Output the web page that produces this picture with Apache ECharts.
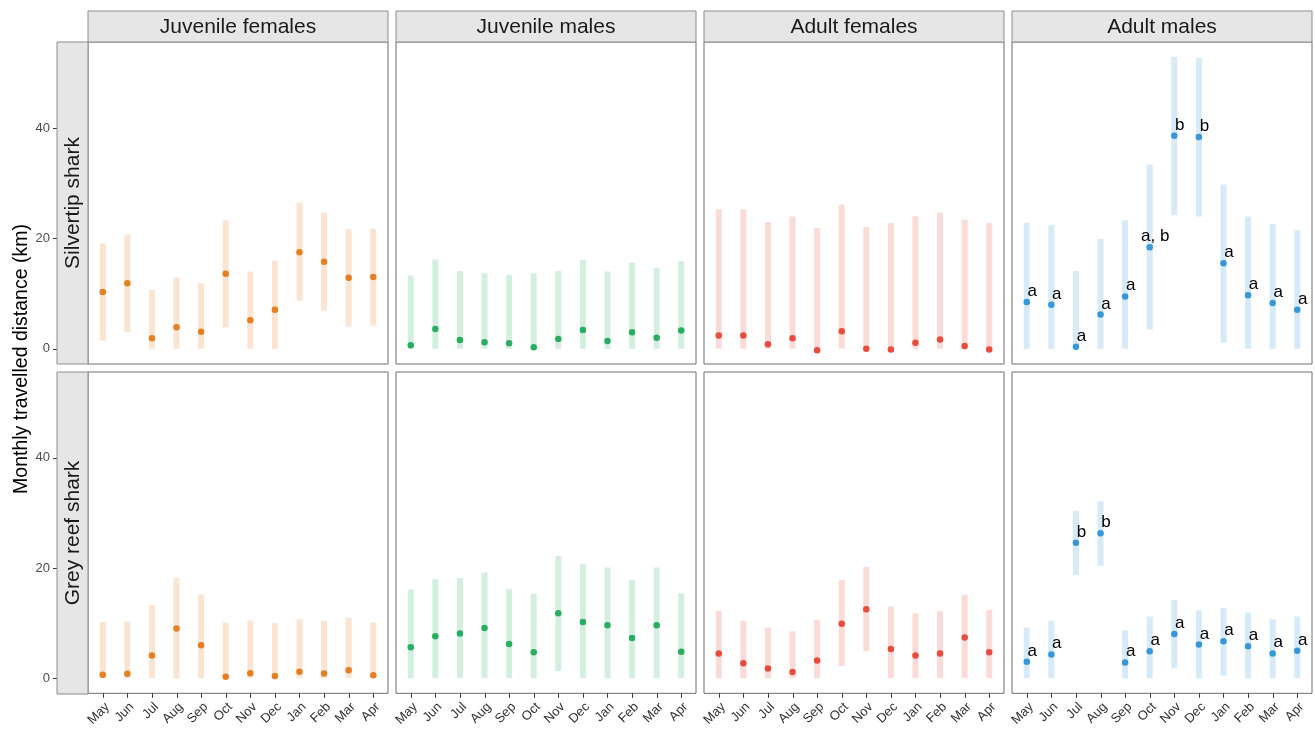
<!DOCTYPE html>
<html><head><meta charset="utf-8">
<script src="https://cdn.jsdelivr.net/npm/echarts@6/dist/echarts.min.js"></script>
<style>html,body{margin:0;padding:0;background:#fff}#c{width:1315px;height:729px}</style>
</head><body><div id="c"></div>
<script>
const months = ['May','Jun','Jul','Aug','Sep','Oct','Nov','Dec','Jan','Feb','Mar','Apr'];
const columns = ['Juvenile females','Juvenile males','Adult females','Adult males'];
const species = ['Silvertip shark','Grey reef shark'];
const yTicks = [0, 20, 40];
const yTitle = 'Monthly travelled distance (km)';

// Silvertip shark
const silvJuvF_mean = [10.3, 11.9, 1.9, 3.9, 3.1, 13.6, 5.2, 7.1, 17.5, 15.8, 12.9, 13.0];
const silvJuvF_lo   = [1.45, 3.0, 0, 0, 0, 3.9, 0, 0, 8.7, 6.9, 4.0, 4.2];
const silvJuvF_hi   = [19.1, 20.7, 10.7, 12.9, 11.9, 23.3, 14.0, 16.0, 26.5, 24.7, 21.7, 21.8];

const silvJuvM_mean = [0.66, 3.6, 1.6, 1.2, 1.0, 0.3, 1.8, 3.4, 1.4, 3.0, 2.0, 3.3];
const silvJuvM_lo   = [0, 0, 0, 0, 0, 0, 0, 0, 0, 0, 0, 0];
const silvJuvM_hi   = [13.3, 16.2, 14.1, 13.7, 13.4, 13.7, 14.1, 16.1, 14.0, 15.6, 14.7, 15.9];

const silvAdF_mean = [2.4, 2.4, 0.85, 1.9, -0.24, 3.2, 0, -0.1, 1.1, 1.7, 0.5, -0.1];
const silvAdF_lo   = [0, 0, 0, 0, 0, 0, 0, 0, 0, 0, 0, 0];
const silvAdF_hi   = [25.3, 25.3, 23.0, 24.0, 21.9, 26.1, 22.1, 22.8, 24.0, 24.7, 23.4, 22.8];

const silvAdM_mean = [8.5, 8.0, 0.36, 6.2, 9.5, 18.4, 38.6, 38.4, 15.5, 9.7, 8.3, 7.1];
const silvAdM_lo   = [0, 0, 0, 0, 0, 3.5, 24.2, 24.0, 1.1, 0, 0, 0];
const silvAdM_hi   = [22.8, 22.4, 14.1, 19.9, 23.3, 33.4, 52.9, 52.7, 29.8, 24.0, 22.6, 21.5];
const silvAdM_letters = ['a','a','a','a','a','a, b','b','b','a','a','a','a'];

// Grey reef shark
const greyJuvF_mean = [0.6, 0.8, 4.1, 9.0, 6.0, 0.24, 0.9, 0.4, 1.15, 0.85, 1.45, 0.55];
const greyJuvF_lo   = [0, 0, 0, 0, 0, 0, 0, 0, 0, 0, 0, 0];
const greyJuvF_hi   = [10.2, 10.3, 13.3, 18.2, 15.2, 10.1, 10.5, 10.0, 10.7, 10.4, 11.0, 10.1];

const greyJuvM_mean = [5.6, 7.6, 8.1, 9.1, 6.2, 4.7, 11.8, 10.2, 9.6, 7.3, 9.6, 4.8];
const greyJuvM_lo   = [0, 0, 0, 0, 0, 0, 1.3, 0, 0, 0, 0, 0];
const greyJuvM_hi   = [16.1, 18.0, 18.2, 19.2, 16.2, 15.3, 22.2, 20.7, 20.1, 17.8, 20.1, 15.4];

const greyAdF_mean = [4.5, 2.7, 1.75, 1.1, 3.2, 9.9, 12.5, 5.3, 4.1, 4.5, 7.4, 4.7];
const greyAdF_lo   = [0, 0, 0, 0, 0, 2.2, 4.9, 0, 0, 0, 0, 0];
const greyAdF_hi   = [12.2, 10.4, 9.2, 8.5, 10.6, 17.8, 20.2, 13.0, 11.8, 12.2, 15.1, 12.4];

const greyAdM_mean = [3.0, 4.3, 24.6, 26.3, 2.85, 4.9, 8.0, 6.1, 6.7, 5.8, 4.5, 5.0];
const greyAdM_lo   = [0, 0, 18.7, 20.4, 0, 0, 1.8, 0, 0.5, 0, 0, 0];
const greyAdM_hi   = [9.2, 10.4, 30.4, 32.1, 8.7, 11.2, 14.2, 12.3, 12.8, 11.9, 10.7, 11.2];
const greyAdM_letters = ['a','a','b','b','a','a','a','a','a','a','a','a'];

const pointColors = ['#E67E22', '#27AE60', '#E74C3C', '#3498DB'];
const barColors = ['#FAE5D3', '#D4EFDF', '#FADBD8', '#D6EAF8'];

const panels = [
  {row:0, col:0, mean:silvJuvF_mean, lo:silvJuvF_lo, hi:silvJuvF_hi},
  {row:0, col:1, mean:silvJuvM_mean, lo:silvJuvM_lo, hi:silvJuvM_hi},
  {row:0, col:2, mean:silvAdF_mean, lo:silvAdF_lo, hi:silvAdF_hi},
  {row:0, col:3, mean:silvAdM_mean, lo:silvAdM_lo, hi:silvAdM_hi, letters:silvAdM_letters},
  {row:1, col:0, mean:greyJuvF_mean, lo:greyJuvF_lo, hi:greyJuvF_hi},
  {row:1, col:1, mean:greyJuvM_mean, lo:greyJuvM_lo, hi:greyJuvM_hi},
  {row:1, col:2, mean:greyAdF_mean, lo:greyAdF_lo, hi:greyAdF_hi},
  {row:1, col:3, mean:greyAdM_mean, lo:greyAdM_lo, hi:greyAdM_hi, letters:greyAdM_letters}
];

const FONT = '"Liberation Sans", Arial, Helvetica, sans-serif';
const Y_MIN = -2.75, Y_MAX = 55.6;
const colLeft = [88, 396, 704, 1012];
const rowTop = [42, 372];
const panelW = 300, panelH = 322;
const stripTop = 11, stripH = 31;
const rowStripLeft = 57, rowStripW = 31;
const monthPos = months.map((m, k) => k + 1);

const grid = [], xAxis = [], yAxis = [], series = [], graphic = [];

panels.forEach((p, i) => {
  grid.push({left: colLeft[p.col], top: rowTop[p.row], width: panelW, height: panelH,
    show: true, borderColor: '#6e6e6e', borderWidth: 1, backgroundColor: 'transparent', containLabel: false});
  const bottom = p.row === 1;
  xAxis.push({type: 'value', gridIndex: i, min: 0.4, max: 12.6, position: 'bottom', z: 5,
    axisLine: {show: false, onZero: false}, splitLine: {show: false},
    axisTick: {show: false},
    axisLabel: {show: bottom, customValues: monthPos, rotate: 45, margin: 7, verticalAlign: 'top',
      formatter: v => months[Math.round(v) - 1], fontSize: 13, color: '#333', fontFamily: FONT}
  });
  const left = p.col === 0;
  yAxis.push({type: 'value', gridIndex: i, min: Y_MIN, max: Y_MAX, offset: left ? 31 : 0, position: 'left', z: 5,
    axisLine: {show: false, onZero: false}, splitLine: {show: false},
    axisTick: {show: left, customValues: yTicks, length: 4, lineStyle: {color: '#333', width: 1}},
    axisLabel: {show: left, customValues: yTicks, margin: 7, fontSize: 13, color: '#4d4d4d', fontFamily: FONT}
  });
  const bc = barColors[p.col], pc = pointColors[p.col];
  series.push({type: 'custom', xAxisIndex: i, yAxisIndex: i, silent: true, z: 1,
    data: months.map((m, k) => [k + 1, p.lo[k], p.hi[k]]),
    encode: {x: 0, y: [1, 2]},
    renderItem: (params, api) => {
      const x = api.value(0);
      const t = api.coord([x, api.value(2)]);
      const b = api.coord([x, api.value(1)]);
      return {type: 'rect', shape: {x: t[0] - 3, y: t[1], width: 6, height: b[1] - t[1]},
        style: {fill: bc}};
    }
  });
  const letters = p.letters;
  series.push({type: 'scatter', xAxisIndex: i, yAxisIndex: i, z: 3, silent: true,
    symbol: 'circle', symbolSize: 6.5, itemStyle: {color: pc, opacity: 1},
    data: months.map((m, k) => [k + 1, p.mean[k]]),
    label: letters ? {show: true, position: 'top', distance: 0, offset: [5.5, 1],
      formatter: q => letters[q.dataIndex], fontSize: 17, lineHeight: 17, color: '#000', fontFamily: FONT} : {show: false}
  });
});

columns.forEach((name, c) => {
  graphic.push({type: 'rect', shape: {x: colLeft[c], y: stripTop, width: panelW, height: stripH},
    style: {fill: '#E6E6E6', stroke: '#8c8c8c', lineWidth: 1}, z: 10});
  graphic.push({type: 'text', x: colLeft[c] + panelW / 2, y: stripTop + stripH / 2 + 1,
    style: {text: name, align: 'center', verticalAlign: 'middle', fill: '#1a1a1a', font: '21px ' + FONT}, z: 11});
});
species.forEach((name, r) => {
  graphic.push({type: 'rect', shape: {x: rowStripLeft, y: rowTop[r], width: rowStripW, height: panelH},
    style: {fill: '#E6E6E6', stroke: '#8c8c8c', lineWidth: 1}, z: 10});
  graphic.push({type: 'text', x: rowStripLeft + rowStripW / 2 + 1, y: rowTop[r] + panelH / 2, rotation: Math.PI / 2,
    style: {text: name, align: 'center', verticalAlign: 'middle', fill: '#1a1a1a', font: '21px ' + FONT}, z: 11});
});
graphic.push({type: 'text', x: 22, y: 359, rotation: Math.PI / 2,
  style: {text: yTitle, align: 'center', verticalAlign: 'middle', fill: '#000', font: '19.5px ' + FONT}, z: 11});

const chart = echarts.init(document.getElementById('c'), null, {renderer: 'canvas'});
chart.setOption({animation: false, backgroundColor: '#fff', grid, xAxis, yAxis, series, graphic});

// x-axis tick marks under the bottom row, positioned through the axes' own scales
const tickGraphics = graphic.slice();
panels.forEach((p, i) => {
  if (p.row !== 1) return;
  monthPos.forEach(v => {
    const pt = chart.convertToPixel({gridIndex: i}, [v, Y_MIN]);
    const tx = Math.round(pt[0]) + 0.5;
    tickGraphics.push({type: 'line', silent: true, z: 20,
      shape: {x1: tx, y1: pt[1], x2: tx, y2: pt[1] + 4.5},
      style: {stroke: '#333', lineWidth: 1}});
  });
});
chart.setOption({graphic: tickGraphics});
</script>
</body></html>
